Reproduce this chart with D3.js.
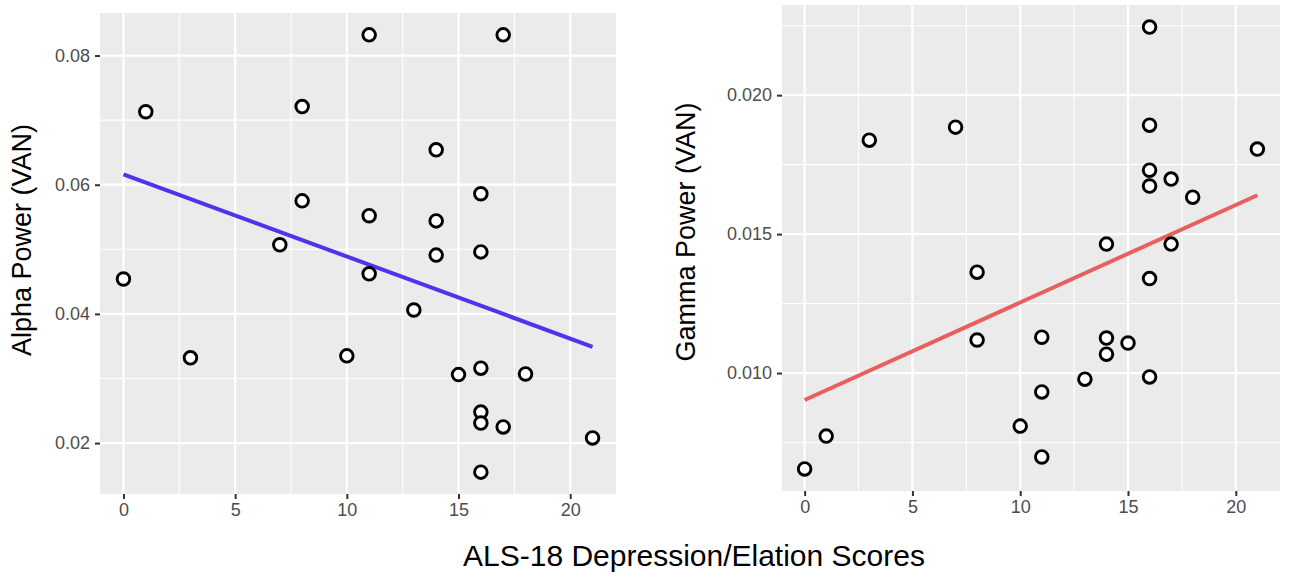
<!DOCTYPE html>
<html>
<head>
<meta charset="utf-8">
<script src="https://cdn.jsdelivr.net/npm/d3@7"></script>
<style>
  body { margin: 0; background: #fff; }
  svg { display: block; font-family: "Liberation Sans", Arial, Helvetica, sans-serif; }
</style>
</head>
<body>
<svg id="chart" width="1300" height="578"></svg>
<script>
// ALS-18 depression/elation scores (shared x) and band power per subject
var alphaScores = [0, 1, 3, 7, 8, 8, 10, 11, 11, 11, 13, 14, 14, 14, 15, 16, 16, 16, 16, 16, 16, 17, 17, 18, 21];
var alphaPower  = [0.0454, 0.0713, 0.0332, 0.0507, 0.0721, 0.0575, 0.0335, 0.0832, 0.0552, 0.0462,
                   0.0406, 0.0654, 0.0544, 0.0491, 0.0306, 0.0586, 0.0496, 0.0316, 0.0248, 0.0231,
                   0.0155, 0.0832, 0.0225, 0.0307, 0.0208];
var alphaFit    = [[0, 0.0616], [21, 0.0349]];

var gammaScores = [0, 1, 3, 7, 8, 8, 10, 11, 11, 11, 13, 14, 14, 14, 15, 16, 16, 16, 16, 16, 16, 17, 17, 18, 21];
var gammaPower  = [0.00655, 0.00773, 0.01838, 0.01885, 0.01363, 0.01119, 0.00809, 0.01129, 0.00932, 0.00698,
                   0.00978, 0.01464, 0.01126, 0.01068, 0.01108, 0.02245, 0.01892, 0.01730, 0.01673, 0.01340,
                   0.00986, 0.01698, 0.01464, 0.01633, 0.01806];
var gammaFit    = [[0, 0.00903], [21, 0.01640]];

var xTicks = [0, 5, 10, 15, 20];
var alphaTicks = [0.02, 0.04, 0.06, 0.08];
var gammaTicks = [0.010, 0.015, 0.020];

var svg = d3.select("#chart");

// ggplot style: 5% expansion of the data range on both sides
function expand(ext) {
  var pad = (ext[1] - ext[0]) * 0.05;
  return [ext[0] - pad, ext[1] + pad];
}

function drawPanel(opts) {
  var x = d3.scaleLinear().domain(expand(d3.extent(opts.xs))).range([opts.left, opts.right]);
  var y = d3.scaleLinear().domain(expand(d3.extent(opts.ys))).range([opts.bottom, opts.top]);
  var g = svg.append("g");

  g.append("rect")
    .attr("x", opts.left).attr("y", opts.top)
    .attr("width", opts.right - opts.left).attr("height", opts.bottom - opts.top)
    .attr("fill", "#ebebeb");

  // minor grid, half way between major ticks
  var step = opts.yTicks[1] - opts.yTicks[0];
  var yMinor = d3.range(opts.yTicks[0] - step / 2, opts.yTicks[opts.yTicks.length - 1] + step, step)
    .filter(function(v){ return v > y.domain()[0] && v < y.domain()[1]; });
  var xMinor = d3.range(-2.5, 25, 5)
    .filter(function(v){ return v > x.domain()[0] && v < x.domain()[1]; });

  g.selectAll(".ymin").data(yMinor).enter().append("line")
    .attr("x1", opts.left).attr("x2", opts.right)
    .attr("y1", y).attr("y2", y)
    .attr("stroke", "#fff").attr("stroke-width", 1.1);
  g.selectAll(".xmin").data(xMinor).enter().append("line")
    .attr("y1", opts.top).attr("y2", opts.bottom)
    .attr("x1", x).attr("x2", x)
    .attr("stroke", "#fff").attr("stroke-width", 1.1);
  g.selectAll(".ymaj").data(opts.yTicks).enter().append("line")
    .attr("x1", opts.left).attr("x2", opts.right)
    .attr("y1", y).attr("y2", y)
    .attr("stroke", "#fff").attr("stroke-width", 2.2);
  g.selectAll(".xmaj").data(xTicks).enter().append("line")
    .attr("y1", opts.top).attr("y2", opts.bottom)
    .attr("x1", x).attr("x2", x)
    .attr("stroke", "#fff").attr("stroke-width", 2.2);

  // axes
  var xAxis = d3.axisBottom(x).tickValues(xTicks).tickSize(5).tickPadding(4).tickFormat(d3.format("d"));
  var yAxis = d3.axisLeft(y).tickValues(opts.yTicks).tickSize(5).tickPadding(5).tickFormat(d3.format(opts.fmt));

  var gx = g.append("g").attr("transform", "translate(0," + opts.bottom + ")").call(xAxis);
  var gy = g.append("g").attr("transform", "translate(" + opts.left + ",0)").call(yAxis);
  [gx, gy].forEach(function(a){
    a.select(".domain").remove();
    a.selectAll(".tick line").attr("stroke", "#333").attr("stroke-width", 2);
    a.selectAll(".tick text").attr("fill", "#4d4d4d").style("font-size", "18px");
  });

  // fitted line
  g.append("path")
    .datum(opts.fit)
    .attr("d", d3.line().x(function(d){ return x(d[0]); }).y(function(d){ return y(d[1]); }))
    .attr("stroke", opts.lineColor).attr("stroke-width", 4).attr("fill", "none");

  // points
  g.selectAll(".pt").data(opts.xs).enter().append("circle")
    .attr("cx", function(d){ return x(d); })
    .attr("cy", function(d, i){ return y(opts.ys[i]); })
    .attr("r", 6.3)
    .attr("fill", "#fff").attr("stroke", "#000").attr("stroke-width", 2.9);

  // y title
  g.append("text")
    .attr("transform", "translate(" + opts.titleX + "," + opts.titleY + ") rotate(-90)")
    .attr("text-anchor", "middle")
    .attr("dy", "0.35em")
    .style("font-size", "27px")
    .attr("fill", "#000")
    .text(opts.title);
}

drawPanel({
  xs: alphaScores, ys: alphaPower, fit: alphaFit, yTicks: alphaTicks, fmt: ".2f",
  left: 100, right: 616, top: 13, bottom: 494,
  lineColor: "#4f34ea", title: "Alpha Power (VAN)", titleX: 22, titleY: 240
});

drawPanel({
  xs: gammaScores, ys: gammaPower, fit: gammaFit, yTicks: gammaTicks, fmt: ".3f",
  left: 782, right: 1280, top: 5, bottom: 491,
  lineColor: "#e8605d", title: "Gamma Power (VAN)", titleX: 686, titleY: 232
});

svg.append("text")
  .attr("x", 694).attr("y", 566)
  .attr("text-anchor", "middle")
  .style("font-size", "30px")
  .attr("fill", "#000")
  .text("ALS-18 Depression/Elation Scores");
</script>
</body>
</html>
